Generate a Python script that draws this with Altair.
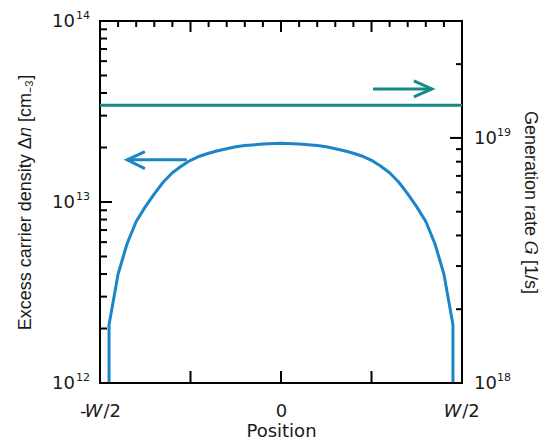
import altair as alt
import pandas as pd

# ---- data ----
# excess carrier density profile (position in units of W)
pos = [-0.475, -0.475, -0.45, -0.425, -0.4, -0.375, -0.35, -0.325, -0.3, -0.275, -0.25, -0.225, -0.2,
       -0.175, -0.15, -0.125, -0.1, -0.05, 0.0,
       0.05, 0.1, 0.125, 0.15, 0.175, 0.2, 0.225, 0.25, 0.275, 0.3, 0.325, 0.35, 0.375, 0.4, 0.425,
       0.45, 0.475, 0.475]
dn = [1e12, 2.1e12, 4.0e12, 5.9e12, 7.8e12, 9.4e12, 1.11e13, 1.29e13, 1.45e13, 1.58e13, 1.70e13, 1.79e13, 1.86e13,
      1.92e13, 1.97e13, 2.02e13, 2.05e13, 2.09e13, 2.11e13,
      2.09e13, 2.05e13, 2.02e13, 1.97e13, 1.92e13, 1.86e13, 1.79e13, 1.70e13, 1.58e13, 1.45e13, 1.29e13,
      1.11e13, 9.4e12, 7.8e12, 5.9e12, 4.0e12, 2.1e12, 1e12]

# generation rate (constant)
gen_pos = [-0.5, 0.5]
gen = [1.36e19, 1.36e19]

# axis ticks
left_major = [1e12, 1e13, 1e14]
left_minor = [2e12, 3e12, 4e12, 5e12, 6e12, 7e12, 8e12, 9e12, 2e13, 3e13, 4e13, 5e13, 6e13, 7e13, 8e13, 9e13]
left_exp = ["12", "13", "14"]
right_major = [1e18, 1e19]
right_minor = [2e18, 3e18, 4e18, 5e18, 6e18, 7e18, 8e18, 9e18, 2e19, 3e19]
right_exp = ["18", "19"]
x_major = [-0.5, -0.25, 0.0, 0.25, 0.5]
x_minor = [-0.45, -0.4, -0.35, -0.3, -0.2, -0.15, -0.1, -0.05, 0.05, 0.1, 0.15, 0.2, 0.3, 0.35, 0.4, 0.45]
x_label_vals = [-0.5, 0.0, 0.5]
x_labels = ["-𝑊/2", "0", "𝑊/2"]

# annotation arrows (data coordinates)
blue_arrow_pos = [-0.26, -0.425, -0.376, -0.425, -0.376]
blue_arrow_val = [1.71e13, 1.71e13, 1.90e13, 1.71e13, 1.53e13]
blue_arrow_seg = [0, 0, 1, 1, 1]
teal_arrow_pos = [0.254, 0.417, 0.367, 0.417, 0.367]
teal_arrow_val = [1.585e19, 1.585e19, 1.71e19, 1.585e19, 1.47e19]
teal_arrow_seg = [0, 0, 1, 1, 1]

BLUE = "#1a86c8"
TEAL = "#16898a"
TXT = "#1a1a1a"
FONT = "Liberation Sans"
HFONT = "DejaVu Sans"
W = 362
H = 362

xsc = alt.Scale(domain=[-0.5, 0.5], nice=False, zero=False)
lsc = alt.Scale(type="log", domain=[1e12, 1e14], nice=False)
rsc = alt.Scale(type="log", domain=[1e18, 3e19], nice=False)

df_dn = pd.DataFrame({"pos": pos, "val": dn, "i": list(range(len(pos)))})
df_g = pd.DataFrame({"pos": gen_pos, "val": gen})
df_lmaj = pd.DataFrame({"val": left_major, "exp": left_exp, "base": ["10"] * 3})
df_lmin = pd.DataFrame({"val": left_minor})
df_rmaj = pd.DataFrame({"val": right_major, "exp": right_exp, "base": ["10"] * 2})
df_rmin = pd.DataFrame({"val": right_minor})
df_xmaj = pd.DataFrame({"pos": x_major})
df_xmin = pd.DataFrame({"pos": x_minor})
df_ba = pd.DataFrame({"pos": blue_arrow_pos, "val": blue_arrow_val, "seg": blue_arrow_seg,
                      "i": list(range(len(blue_arrow_pos)))})
df_ta = pd.DataFrame({"pos": teal_arrow_pos, "val": teal_arrow_val, "seg": teal_arrow_seg,
                      "i": list(range(len(teal_arrow_pos)))})

label_expr = "datum.value == -0.5 ? '%s' : (datum.value == 0.5 ? '%s' : (datum.value == 0 ? '%s' : ''))" % (
    x_labels[0], x_labels[2], x_labels[1])

x_axis = alt.Axis(values=x_label_vals, labelExpr=label_expr, labels=True,
                  labelFontSize=18, labelPadding=19, labelColor=TXT, labelFont=HFONT,
                  title="Position", titleFontSize=18, titleFontWeight="normal", titleColor=TXT,
                  titleFont=HFONT, titlePadding=2, labelFlush=False)

X = alt.X("pos:Q", scale=xsc)

# ---------- left group ----------
blue_line = alt.Chart(df_dn).mark_line(color=BLUE, strokeWidth=3, strokeJoin="round").encode(
    x=alt.X("pos:Q", scale=xsc, axis=x_axis),
    y=alt.Y("val:Q", scale=lsc, axis=alt.Axis(title="Excess carrier density Δ𝑛 [cm₋₃]",
                                               titleFontSize=18, titleFontWeight="normal",
                                               titleColor=TXT, titleFont=FONT, titlePadding=66)),
    order="i:Q",
)
blue_arrow = alt.Chart(df_ba).mark_line(color=BLUE, strokeWidth=3, strokeCap="butt").encode(
    x=X, y=alt.Y("val:Q", scale=lsc), detail="seg:N", order="i:Q")
lt_major = alt.Chart(df_lmaj).mark_rule(color="black", strokeWidth=2).encode(
    x=alt.value(0), x2=alt.value(12), y=alt.Y("val:Q", scale=lsc))
lt_minor = alt.Chart(df_lmin).mark_rule(color="black", strokeWidth=2).encode(
    x=alt.value(0), x2=alt.value(7), y=alt.Y("val:Q", scale=lsc))
l_base = alt.Chart(df_lmaj).mark_text(align="right", baseline="middle", fontSize=18, font=HFONT,
                                       color=TXT, dy=1).encode(
    x=alt.value(-25), y=alt.Y("val:Q", scale=lsc), text="base:N")
l_exp = alt.Chart(df_lmaj).mark_text(align="left", baseline="middle", fontSize=11, font=HFONT,
                                      color=TXT, dy=-5).encode(
    x=alt.value(-24), y=alt.Y("val:Q", scale=lsc), text="exp:N")

left = alt.layer(blue_line, blue_arrow, lt_major, lt_minor, l_base, l_exp)

# ---------- right group ----------
teal_line = alt.Chart(df_g).mark_line(color=TEAL, strokeWidth=3).encode(
    x=X,
    y=alt.Y("val:Q", scale=rsc, axis=alt.Axis(orient="right", title="Generation rate 𝐺 [1/s]",
                                               titleFontSize=18, titleFontWeight="normal",
                                               titleColor=TXT, titleFont=FONT, titlePadding=58)),
)
teal_arrow = alt.Chart(df_ta).mark_line(color=TEAL, strokeWidth=3, strokeCap="butt").encode(
    x=X, y=alt.Y("val:Q", scale=rsc), detail="seg:N", order="i:Q")
rt_major = alt.Chart(df_rmaj).mark_rule(color="black", strokeWidth=2).encode(
    x=alt.value(W), x2=alt.value(W - 12), y=alt.Y("val:Q", scale=rsc))
rt_minor = alt.Chart(df_rmin).mark_rule(color="black", strokeWidth=2).encode(
    x=alt.value(W), x2=alt.value(W - 6), y=alt.Y("val:Q", scale=rsc))
r_base = alt.Chart(df_rmaj).mark_text(align="left", baseline="middle", fontSize=18, font=HFONT,
                                       color=TXT, dy=1).encode(
    x=alt.value(W + 12), y=alt.Y("val:Q", scale=rsc), text="base:N")
r_exp = alt.Chart(df_rmaj).mark_text(align="left", baseline="middle", fontSize=11, font=HFONT,
                                      color=TXT, dy=-5).encode(
    x=alt.value(W + 35), y=alt.Y("val:Q", scale=rsc), text="exp:N")

# x ticks (bottom: major only, top: major + minor), all pointing inward
bt_major = alt.Chart(df_xmaj).mark_rule(color="black", strokeWidth=2).encode(
    x=X, y=alt.value(H), y2=alt.value(H - 12))
tt_major = alt.Chart(df_xmaj).mark_rule(color="black", strokeWidth=2).encode(
    x=X, y=alt.value(0), y2=alt.value(11))
tt_minor = alt.Chart(df_xmin).mark_rule(color="black", strokeWidth=2).encode(
    x=X, y=alt.value(0), y2=alt.value(6))

right = alt.layer(teal_line, teal_arrow, rt_major, rt_minor, r_base, r_exp, bt_major, tt_major, tt_minor)

chart = alt.layer(left, right).resolve_scale(y="independent").properties(
    width=W, height=H,
    padding={"left": 92, "top": 13, "right": 79, "bottom": 60},
    autosize=alt.AutoSizeParams(type="none"),
    background="white",
).configure_view(stroke="black", strokeWidth=2).configure_axis(
    labels=False, ticks=False, domain=False, grid=False
)

chart.save("out.html", embed_options={"renderer": "svg", "actions": False})
